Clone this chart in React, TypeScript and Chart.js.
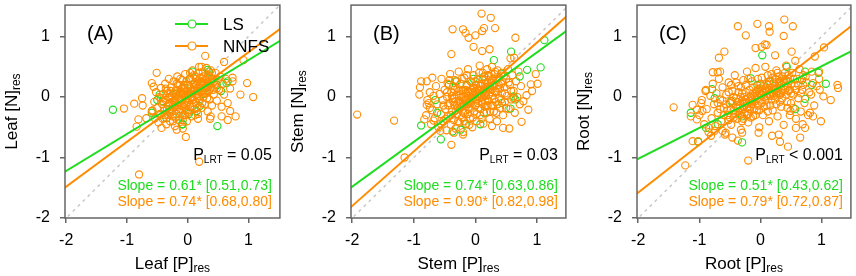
import React, { useEffect, useRef } from "react";
import { Chart, registerables } from "chart.js";

Chart.register(...registerables);

type P = [number, number];

const GREEN = "#1EDC1E";
const ORANGE = "#FF8C00";
const FONT = "'Liberation Sans', Arial, sans-serif";

const xTicks = [-2, -1, 0, 1];
const yTicks = [-2, -1, 0, 1];
const panelLabels = ["(A)", "(B)", "(C)"];
const organs = ["Leaf", "Stem", "Root"];
const lsSlopes = [0.61, 0.74, 0.51];
const nnfsSlopes = [0.74, 0.9, 0.79];
const lsCI = ["[0.51,0.73]", "[0.63,0.86]", "[0.43,0.62]"];
const nnfsCI = ["[0.68,0.80]", "[0.82,0.98]", "[0.72,0.87]"];
const pLrt = ["= 0.05", "= 0.03", "< 0.001"];
const seriesNames = ["LS", "NNFS"];

const leafLS: P[] = [
  [-1.23, -0.21], [0.49, -0.48], [0.08, 0.42], [0.35, 0.42], [0.66, 0.26], [-0.09, -0.45], [-0.46, 0.04],
  [-0.08, -0.45], [0.15, -0.23], [0.33, 0.45], [0.64, 0.23], [-0.59, -0.26], [-0.13, -0.32], [0.2, -0.15],
  [0.48, 0.2], [-0.41, -0.07], [0.04, 0.31], [-0.3, -0.2], [-0.5, -0.05], [0.1, 0.1], [-0.2, 0.05],
  [0.25, 0.05], [0.4, 0.3], [-0.35, -0.35], [0.02, -0.28], [-0.05, 0.15], [0.3, 0.15], [0.55, 0.1],
];

const leafNNFS: P[] = [
  [-0.8, -1.28], [0.19, -1.07], [-0.03, -0.66], [-1.05, -0.19], [-0.88, -0.11], [-0.75, -0.02], [-0.81, -0.37],
  [-0.84, -0.49], [-0.51, 0.4], [-0.59, 0.23], [-0.56, 0.17], [0.29, 0.68], [0.6, 0.58], [0.23, 0.5],
  [0.92, 0.61], [0.98, 0.23], [1.08, 0.0], [0.87, 0.04], [0.74, 0.26], [0.79, -0.32], [0.66, -0.38],
  [0.7, -0.23], [0.56, -0.32], [0.37, -0.36], [0.38, -0.32], [0.17, -0.36], [-0.18, -0.54], [-0.08, -0.52],
  [-0.43, -0.51], [-0.68, -0.35], [-0.59, -0.23], [-0.74, -0.14],
  [-0.58, -0.22], [-0.55, -0.08], [-0.54, -0.35], [-0.52, 0.08], [-0.5, -0.18], [-0.48, -0.42], [-0.47, 0.0],
  [-0.45, -0.28], [-0.44, 0.15], [-0.42, -0.12], [-0.41, -0.36], [-0.4, 0.05], [-0.38, -0.22], [-0.37, 0.22],
  [-0.36, -0.05], [-0.35, -0.45], [-0.34, 0.1], [-0.33, -0.3], [-0.32, -0.14], [-0.31, 0.3], [-0.3, 0.0],
  [-0.29, -0.4], [-0.28, -0.22], [-0.27, 0.16], [-0.26, -0.08], [-0.25, -0.32], [-0.24, 0.06], [-0.23, 0.26],
  [-0.22, -0.16], [-0.21, -0.48], [-0.2, -0.02], [-0.19, 0.12], [-0.18, -0.28], [-0.17, 0.34], [-0.16, -0.1],
  [-0.15, 0.02], [-0.14, -0.38], [-0.13, 0.2], [-0.12, -0.2], [-0.11, 0.08], [-0.1, -0.04], [-0.09, 0.28],
  [-0.08, -0.3], [-0.07, 0.14], [-0.06, -0.12], [-0.05, 0.0], [-0.04, 0.38], [-0.03, -0.22], [-0.02, 0.1],
  [-0.01, -0.4], [0.0, 0.2], [0.01, -0.08], [0.02, 0.04], [0.03, 0.3], [0.04, -0.16], [0.05, 0.14],
  [0.06, -0.32], [0.07, 0.08], [0.08, 0.44], [0.09, -0.04], [0.1, 0.22], [0.11, -0.2], [0.12, 0.12],
  [0.13, 0.34], [0.14, -0.1], [0.15, 0.04], [0.16, 0.26], [0.17, -0.28], [0.18, 0.16], [0.19, 0.5],
  [0.2, -0.06], [0.21, 0.32], [0.22, 0.08], [0.23, -0.18], [0.24, 0.22], [0.25, 0.42], [0.26, 0.0],
  [0.27, 0.14], [0.28, -0.12], [0.29, 0.3], [0.3, 0.06], [0.31, 0.48], [0.32, 0.2], [0.33, -0.24],
  [0.34, 0.36], [0.35, 0.1], [0.36, -0.04], [0.37, 0.26], [0.38, 0.44], [0.39, 0.16], [0.4, -0.14],
  [0.42, 0.3], [0.43, 0.04], [0.45, 0.2], [0.46, 0.4], [0.48, -0.06], [0.5, 0.28], [0.52, 0.12],
  [0.54, 0.34], [0.56, -0.16], [0.58, 0.22], [0.6, 0.04], [0.63, 0.3], [0.66, -0.1], [0.7, 0.14], [0.74, 0.32],
  [-0.12, -0.06], [-0.08, 0.04], [-0.04, -0.08], [0.0, 0.02], [0.04, 0.06], [0.08, 0.0], [0.12, 0.04],
  [-0.16, -0.14], [0.16, 0.1], [-0.2, -0.1], [0.2, 0.14], [-0.24, -0.14], [0.24, 0.1], [-0.06, 0.06],
  [0.06, -0.02], [-0.1, 0.14], [0.1, -0.1], [-0.02, -0.14], [0.02, 0.18], [-0.14, 0.06], [0.14, 0.2],
  [-0.28, -0.02], [0.28, 0.22], [-0.18, -0.2], [0.18, 0.02],
  [-0.38, -0.3], [-0.34, -0.2], [-0.3, -0.1], [-0.26, -0.24], [-0.22, -0.06], [-0.18, 0.06], [-0.14, -0.24],
  [-0.1, -0.14], [-0.06, 0.2], [-0.02, 0.26], [0.02, -0.22], [0.06, 0.28], [0.1, 0.36], [0.14, 0.3],
  [0.18, 0.4], [0.22, 0.26], [0.26, 0.34], [0.3, 0.28], [0.34, 0.18], [0.38, 0.24], [0.42, 0.12],
  [-0.32, 0.06], [-0.28, 0.1], [-0.24, -0.4], [-0.2, -0.34], [-0.16, 0.2], [-0.12, 0.3], [-0.08, -0.38],
  [-0.04, -0.3], [0.0, -0.26], [0.04, 0.4], [0.08, -0.16], [0.12, -0.3], [0.16, -0.18], [0.2, 0.24],
  [0.24, -0.1], [0.28, 0.06], [0.32, -0.02], [0.36, 0.32], [0.4, 0.4], [-0.44, -0.02], [-0.46, -0.3],
  [0.44, 0.26], [0.48, 0.14], [-0.36, 0.14], [-0.4, -0.08], [-0.1, 0.06], [-0.06, -0.16], [0.0, -0.02],
  [0.06, 0.1], [0.12, 0.24], [0.16, -0.02], [0.22, 0.18], [-0.14, -0.02], [-0.18, 0.22], [-0.26, 0.02],
  [0.26, 0.26], [0.32, 0.12], [-0.3, -0.26], [0.1, 0.16],
];

const stemLS: P[] = [
  [1.12, 0.94], [1.06, 0.49], [0.84, 0.45], [0.72, 0.34], [0.58, 0.75], [0.3, 0.61], [0.62, 0.01],
  [0.65, -0.04], [0.57, -0.19], [-0.88, -0.47], [-0.56, -0.7], [-0.37, -0.57], [-0.65, -0.05], [-0.62, -0.26],
  [-0.24, -0.54], [-0.16, -0.45], [0.08, -0.45], [0.14, -0.26], [0.43, -0.1], [-0.43, 0.2], [-0.32, 0.26],
  [-0.14, 0.2], [-0.03, 0.3], [0.14, 0.34], [0.42, 0.39],
];

const stemNNFS: P[] = [
  [-1.92, -0.29], [-1.32, -0.39], [-1.15, -1.0], [-0.39, -0.79], [-0.37, 1.12], [-0.2, 1.12], [-0.16, 1.06],
  [-0.11, 0.98], [0.0, 1.02], [0.11, 1.09], [0.14, 1.14], [0.1, 1.38], [0.25, 1.31], [0.32, 1.14],
  [-0.03, 0.83], [-0.39, 0.71], [0.11, 0.76], [0.23, 0.79], [0.65, 0.98], [0.57, 0.64], [0.63, 0.65],
  [-0.91, 0.04], [-0.9, 0.16], [-0.88, 0.26], [-0.79, 0.26], [-0.7, 0.32], [-0.78, -0.05], [-0.79, -0.13],
  [-0.74, -0.18], [-0.68, -0.39], [-0.83, -0.37], [0.98, 0.38], [1.01, 0.22], [0.92, 0.1], [0.86, -0.21],
  [0.83, 0.03], [0.75, -0.41], [0.55, -0.52], [0.78, -0.07], [0.62, -0.02], [0.9, 0.21], [0.45, -0.51],
  [0.27, -0.48], [-0.2, -0.62], [-0.35, -0.59], [-0.57, -0.56],
  [-0.8, -0.3], [-0.76, -0.1], [-0.74, 0.08], [-0.72, -0.45], [-0.7, -0.22], [-0.68, 0.02], [-0.66, -0.35],
  [-0.64, 0.18], [-0.62, -0.12], [-0.6, -0.5], [-0.58, 0.05], [-0.56, -0.28], [-0.55, 0.3], [-0.53, -0.05],
  [-0.52, -0.4], [-0.5, 0.12], [-0.49, -0.2], [-0.47, -0.55], [-0.46, 0.0], [-0.45, 0.22], [-0.44, -0.32],
  [-0.42, -0.1], [-0.41, 0.38], [-0.4, -0.46], [-0.39, 0.08], [-0.38, -0.24], [-0.37, -0.02], [-0.36, 0.18],
  [-0.35, -0.38], [-0.34, -0.14], [-0.33, 0.28], [-0.32, -0.52], [-0.31, 0.04], [-0.3, -0.28], [-0.29, 0.14],
  [-0.28, -0.08], [-0.27, 0.42], [-0.26, -0.42], [-0.25, -0.18], [-0.24, 0.22], [-0.23, 0.0], [-0.22, -0.34],
  [-0.21, 0.1], [-0.2, -0.58], [-0.19, -0.12], [-0.18, 0.32], [-0.17, -0.26], [-0.16, 0.06], [-0.15, -0.44],
  [-0.14, 0.18], [-0.13, -0.04], [-0.12, 0.46], [-0.11, -0.2], [-0.1, 0.02], [-0.09, -0.36], [-0.08, 0.26],
  [-0.07, -0.1], [-0.06, 0.12], [-0.05, -0.5], [-0.04, -0.02], [-0.03, 0.36], [-0.02, -0.24], [-0.01, 0.08],
  [0.0, -0.14], [0.01, 0.2], [0.02, -0.4], [0.03, 0.0], [0.04, 0.3], [0.05, -0.18], [0.06, 0.12],
  [0.07, 0.52], [0.08, -0.3], [0.09, 0.04], [0.1, 0.22], [0.11, -0.08], [0.12, 0.4], [0.13, -0.44],
  [0.14, 0.1], [0.15, -0.16], [0.16, 0.28], [0.17, 0.02], [0.18, -0.26], [0.19, 0.46], [0.2, 0.16],
  [0.21, -0.06], [0.22, 0.34], [0.23, -0.36], [0.24, 0.08], [0.25, 0.24], [0.26, -0.14], [0.27, 0.5],
  [0.28, 0.02], [0.29, 0.18], [0.3, -0.24], [0.31, 0.38], [0.32, 0.1], [0.33, -0.08], [0.34, 0.28],
  [0.35, -0.4], [0.36, 0.44], [0.37, 0.14], [0.38, -0.02], [0.39, 0.32], [0.4, -0.18], [0.42, 0.22],
  [0.43, 0.06], [0.44, 0.4], [0.45, -0.3], [0.47, 0.16], [0.48, -0.08], [0.5, 0.3], [0.51, 0.02],
  [0.53, 0.46], [0.54, -0.2], [0.56, 0.2], [0.58, -0.04], [0.6, 0.36], [0.62, 0.1], [0.64, -0.26],
  [0.66, 0.26], [0.68, 0.0], [0.7, 0.42], [0.72, -0.12], [0.74, 0.18],
  [-0.1, -0.06], [-0.06, 0.0], [-0.02, 0.04], [0.02, -0.04], [0.06, 0.06], [0.1, 0.0], [-0.14, -0.1],
  [0.14, 0.14], [-0.18, 0.0], [0.18, 0.08], [-0.22, -0.16], [0.22, 0.14], [-0.04, 0.16], [0.04, -0.1],
  [-0.08, -0.18], [0.08, 0.18], [-0.12, 0.1], [0.12, -0.12], [-0.26, -0.06], [0.26, 0.12], [-0.3, -0.14],
  [0.3, 0.2], [0.0, 0.1], [-0.16, -0.22], [0.16, 0.22], [-0.2, 0.12], [0.2, -0.14], [0.34, 0.08], [-0.34, -0.02],
  [-0.48, -0.36], [-0.44, -0.14], [-0.4, -0.3], [-0.36, -0.08], [-0.32, -0.22], [-0.28, -0.4], [-0.24, -0.1],
  [-0.2, -0.26], [-0.16, -0.04], [-0.12, -0.28], [-0.08, 0.08], [-0.04, -0.34], [0.0, 0.26], [0.04, 0.14],
  [0.08, -0.2], [0.12, 0.3], [0.16, -0.06], [0.2, 0.36], [0.24, -0.24], [0.28, 0.3], [0.32, 0.42],
  [0.36, -0.12], [0.4, 0.14], [0.44, 0.26], [0.48, 0.06], [-0.46, 0.08], [-0.42, 0.28], [-0.38, 0.02],
  [-0.34, 0.12], [-0.3, 0.26], [-0.26, 0.1], [-0.22, 0.3], [-0.18, -0.4], [-0.14, 0.36], [-0.1, -0.46],
  [-0.06, 0.24], [-0.02, 0.14], [0.02, -0.28], [0.06, 0.4], [0.1, -0.36], [0.14, 0.02], [0.18, -0.14],
  [0.22, 0.04], [0.26, 0.38], [0.3, -0.04], [0.34, -0.26], [0.38, 0.2], [0.42, -0.04], [0.46, 0.34],
  [0.5, -0.18], [0.08, 0.1], [-0.08, -0.08], [0.0, -0.04], [0.04, 0.02], [-0.04, 0.06], [0.12, 0.08],
  [-0.12, -0.12], [0.16, 0.06], [-0.16, 0.12], [0.2, 0.24], [-0.2, -0.06], [-0.24, 0.04], [0.24, 0.18],
  [-0.28, -0.18], [0.28, -0.14], [0.54, 0.24], [0.58, 0.1], [-0.52, -0.14], [-0.56, -0.44],
];

const rootLS: P[] = [
  [-1.14, -0.26], [-1.02, -0.74], [-0.79, 0.13], [-0.75, -0.02], [-0.89, -0.51], [-0.7, -0.45], [-0.48, -0.07],
  [-0.3, -0.75], [-0.3, -0.32], [0.03, 0.69], [-0.16, 0.31], [-0.05, 0.2], [0.14, 0.26], [0.27, 0.09],
  [0.43, 0.5], [0.57, -0.2], [0.73, -0.03], [0.84, 0.2], [0.95, 0.4], [1.07, 0.22], [0.73, 0.42],
  [0.68, 0.28], [0.38, 0.26],
];

const rootNNFS: P[] = [
  [-1.42, -0.17], [-1.23, -1.13], [-0.2, -1.05], [-1.02, -0.73], [-1.11, -0.73], [-0.37, 1.17], [-0.24, 1.02],
  [-0.05, 1.21], [0.14, 1.17], [0.15, 1.08], [0.39, 1.28], [0.53, 1.17], [0.38, 1.01], [-0.08, 0.81],
  [0.02, 0.83], [0.07, 0.87], [0.1, 0.86], [-0.59, 0.75], [-0.68, 0.65], [-0.7, 0.41], [-0.78, 0.41],
  [-0.66, 0.42], [0.51, 0.75], [0.24, 0.69], [0.57, 0.6], [0.74, 0.34], [0.89, 0.67], [1.04, 0.82],
  [0.96, 0.42], [1.26, 0.2], [1.27, 0.15], [1.15, -0.05], [1.03, 0.01], [0.97, 0.12], [0.86, 0.23],
  [0.83, 0.04], [0.99, -0.4], [0.86, -0.32], [0.81, -0.26], [0.69, -0.45], [0.73, -0.51], [0.65, -0.67],
  [0.45, -0.82], [0.32, -0.74], [0.3, -0.62], [0.19, -0.64], [0.58, -0.51], [0.49, -0.23], [0.44, -0.18],
  [-0.89, 0.12], [-0.97, -0.1], [-1.04, -0.21], [-1.11, -0.13], [-1.14, -0.32], [-1.04, -0.37], [-0.95, -0.23],
  [-0.84, -0.51], [-0.75, -0.56], [-0.81, -0.64], [-0.62, -0.56], [-0.46, -0.67], [-0.57, -0.59], [-0.37, -0.72],
  [-0.3, -0.59], [-0.03, -0.59],
  [-1.0, -0.3], [-0.96, -0.05], [-0.92, -0.45], [-0.9, 0.1], [-0.88, -0.2], [-0.85, -0.58], [-0.82, 0.02],
  [-0.8, -0.35], [-0.78, 0.22], [-0.76, -0.12], [-0.74, -0.48], [-0.72, 0.06], [-0.7, -0.26], [-0.68, 0.3],
  [-0.66, -0.04], [-0.64, -0.4], [-0.62, 0.16], [-0.6, -0.18], [-0.58, -0.62], [-0.56, 0.04], [-0.54, -0.3],
  [-0.52, 0.24], [-0.5, -0.1], [-0.48, -0.46], [-0.46, 0.1], [-0.44, -0.22], [-0.42, 0.36], [-0.4, -0.02],
  [-0.38, -0.36], [-0.36, 0.18], [-0.34, -0.14], [-0.32, -0.54], [-0.3, 0.06], [-0.28, 0.28], [-0.26, -0.26],
  [-0.24, -0.04], [-0.22, 0.42], [-0.2, -0.42], [-0.18, 0.12], [-0.16, -0.16], [-0.14, 0.26], [-0.12, -0.32],
  [-0.1, 0.02], [-0.08, 0.48], [-0.06, -0.22], [-0.04, 0.14], [-0.02, -0.5], [0.0, -0.06], [0.02, 0.32],
  [0.04, -0.3], [0.06, 0.08], [0.08, 0.5], [0.1, -0.14], [0.12, 0.2], [0.14, -0.4], [0.16, 0.02],
  [0.18, 0.38], [0.2, -0.22], [0.22, 0.14], [0.24, -0.04], [0.26, 0.44], [0.28, -0.32], [0.3, 0.24],
  [0.32, 0.04], [0.34, -0.16], [0.36, 0.34], [0.38, -0.46], [0.4, 0.12], [0.42, 0.52], [0.44, -0.08],
  [0.46, 0.26], [0.48, -0.3], [0.5, 0.06], [0.52, 0.4], [0.54, -0.18], [0.56, 0.18], [0.58, -0.36],
  [0.6, 0.3], [0.62, -0.02], [0.64, 0.46], [0.66, -0.24], [0.68, 0.12], [0.7, 0.36], [0.72, -0.1],
  [0.75, 0.24], [0.78, -0.3], [0.8, 0.08], [0.84, 0.42], [0.88, -0.14], [0.92, 0.18], [0.96, 0.3],
  [-0.3, -0.2], [-0.26, -0.1], [-0.22, -0.18], [-0.18, -0.06], [-0.14, -0.12], [-0.1, -0.2], [-0.06, -0.04],
  [-0.02, 0.06], [0.02, -0.1], [0.06, 0.0], [0.1, 0.1], [0.14, 0.04], [0.18, 0.16], [0.22, 0.02],
  [0.26, 0.14], [0.3, 0.06], [0.34, 0.2], [-0.36, -0.24], [-0.4, -0.16], [-0.44, -0.34], [0.38, 0.18],
  [0.42, 0.28], [-0.12, 0.06], [0.0, 0.14], [-0.04, -0.14], [0.04, 0.18], [0.08, -0.06], [0.12, -0.24],
  [-0.08, -0.3], [0.16, 0.26], [-0.16, 0.02], [-0.2, -0.28], [0.2, 0.06], [-0.24, 0.08], [0.24, 0.3],
  [-0.28, -0.36], [0.28, 0.1], [-0.32, 0.0], [0.32, -0.08], [-0.48, -0.2], [0.46, 0.1], [-0.52, -0.38],
  [0.5, 0.22], [-0.56, -0.12], [0.54, 0.04], [-0.6, -0.3], [0.58, 0.12],
  [-0.54, -0.22], [-0.5, -0.34], [-0.46, -0.06], [-0.42, -0.28], [-0.38, -0.08], [-0.34, -0.3], [-0.3, -0.4],
  [-0.26, 0.0], [-0.22, -0.3], [-0.18, -0.2], [-0.14, -0.02], [-0.1, -0.08], [-0.06, 0.1], [-0.02, -0.22],
  [0.02, 0.04], [0.06, -0.16], [0.1, 0.22], [0.14, 0.12], [0.18, -0.04], [0.22, 0.24], [0.26, -0.12],
  [0.3, 0.34], [0.34, 0.06], [0.38, 0.3], [0.42, 0.04], [0.46, 0.36], [0.5, -0.1], [0.54, 0.3],
  [-0.52, 0.08], [-0.48, 0.2], [-0.44, 0.0], [-0.4, 0.24], [-0.36, 0.08], [-0.32, 0.16], [-0.28, -0.08],
  [-0.24, 0.2], [-0.2, 0.3], [-0.16, -0.34], [-0.12, 0.16], [-0.08, 0.06], [-0.04, 0.3], [0.0, 0.22],
  [0.04, 0.08], [0.08, 0.14], [0.12, 0.36], [0.16, -0.14], [0.2, 0.32], [0.24, 0.12], [0.28, 0.4],
  [0.32, 0.26], [0.36, -0.02], [0.4, 0.4], [0.44, 0.18], [0.48, 0.12], [-0.06, 0.02], [0.02, 0.1],
  [0.1, 0.02], [-0.14, -0.06], [0.18, 0.08], [-0.22, -0.1], [0.26, 0.06], [-0.3, -0.06], [0.34, 0.12],
  [-0.38, -0.18], [0.62, 0.2], [0.66, 0.06], [-0.62, -0.06], [-0.66, -0.2], [0.7, 0.2], [-0.7, -0.1],
];

const lsData = [leafLS, stemLS, rootLS];
const nnfsData = [leafNNFS, stemNNFS, rootNNFS];
const xMins = [-2.02, -2.02, -2.02];
const xMaxs = [1.52, 1.47, 1.48];
const yMin = -2.0;
const yMax = 1.52;

const canvasLefts = [0, 286, 572];
const canvasWidths = [285, 285, 284];
const padRights = [5, 5, 3];
const H = 276;

function drawSub(
  ctx: CanvasRenderingContext2D,
  main: string,
  sub: string,
  x: number,
  y: number,
  align: "left" | "center" | "right",
  mainSize: number,
  subSize: number,
  subDy: number,
  color: string,
  after?: string
) {
  ctx.save();
  ctx.fillStyle = color;
  ctx.textAlign = "left";
  ctx.textBaseline = "alphabetic";
  ctx.font = `${mainSize}px ${FONT}`;
  const w1 = ctx.measureText(main).width;
  const wa = after ? ctx.measureText(after).width : 0;
  ctx.font = `${subSize}px ${FONT}`;
  const w2 = ctx.measureText(sub).width;
  const total = w1 + w2 + wa;
  let sx = x;
  if (align === "center") sx = x - total / 2;
  if (align === "right") sx = x - total;
  ctx.font = `${mainSize}px ${FONT}`;
  ctx.fillText(main, sx, y);
  ctx.font = `${subSize}px ${FONT}`;
  ctx.fillText(sub, sx + w1, y + subDy);
  if (after) {
    ctx.font = `${mainSize}px ${FONT}`;
    ctx.fillText(after, sx + w1 + w2, y);
  }
  ctx.restore();
}

function makeChart(canvas: HTMLCanvasElement, i: number) {
  const lineX = [-2.3, 1.8];
  const annot = {
    id: "annot" + i,
    afterDraw(chart: any) {
      const ctx: CanvasRenderingContext2D = chart.ctx;
      const a = chart.chartArea;
      ctx.save();
      ctx.strokeStyle = "#666";
      ctx.lineWidth = 1.5;
      ctx.strokeRect(a.left, a.top, a.right - a.left, a.bottom - a.top);
      ctx.restore();
      ctx.save();
      ctx.fillStyle = "#000";
      ctx.font = `20px ${FONT}`;
      ctx.textBaseline = "alphabetic";
      ctx.textAlign = "left";
      ctx.fillText(panelLabels[i], a.left + 22, 40);
      ctx.restore();
      drawSub(ctx, organs[i] + " [P]", "res", (a.left + a.right) / 2, 269, "center", 17, 12, 3, "#000");
      ctx.save();
      ctx.translate(a.left - 48, (a.top + a.bottom) / 2);
      ctx.rotate(-Math.PI / 2);
      drawSub(ctx, organs[i] + " [N]", "res", 0, 0, "center", 17, 12, 3, "#000");
      ctx.restore();
      const rx = a.right - 8;
      drawSub(ctx, "P", "LRT", rx, 160, "right", 16, 10, 3, "#000", " " + pLrt[i]);
      ctx.save();
      ctx.font = `14px ${FONT}`;
      ctx.textAlign = "right";
      ctx.textBaseline = "alphabetic";
      ctx.fillStyle = GREEN;
      ctx.fillText(`Slope = ${lsSlopes[i].toFixed(2)}* ${lsCI[i]}`, rx, 190);
      ctx.fillStyle = ORANGE;
      ctx.fillText(`Slope = ${nnfsSlopes[i].toFixed(2)}* ${nnfsCI[i]}`, rx, 206);
      ctx.restore();
      if (i === 0) {
        const cols = [GREEN, ORANGE];
        const ys = [24, 46];
        for (let k = 0; k < 2; k++) {
          ctx.save();
          ctx.strokeStyle = cols[k];
          ctx.lineWidth = 2;
          ctx.beginPath();
          ctx.moveTo(a.left + 110, ys[k]);
          ctx.lineTo(a.left + 143, ys[k]);
          ctx.stroke();
          ctx.lineWidth = 1.2;
          ctx.fillStyle = "#fff";
          ctx.beginPath();
          ctx.arc(a.left + 127, ys[k], 4, 0, Math.PI * 2);
          ctx.fill();
          ctx.stroke();
          ctx.fillStyle = "#000";
          ctx.font = `17px ${FONT}`;
          ctx.textBaseline = "middle";
          ctx.textAlign = "left";
          ctx.fillText(seriesNames[k], a.left + 158, ys[k] + 1);
          ctx.restore();
        }
      }
    },
  };

  const pts = (arr: P[]) => arr.map(([x, y]) => ({ x, y }));
  const line = (b: number) => lineX.map((x) => ({ x, y: b * x }));

  return new Chart(canvas, {
    type: "scatter",
    data: {
      datasets: [
        { type: "line", data: line(lsSlopes[i]), borderColor: GREEN, borderWidth: 2, pointRadius: 0, clip: 0, order: 0 } as any,
        { type: "line", data: line(nnfsSlopes[i]), borderColor: ORANGE, borderWidth: 2, pointRadius: 0, clip: 0, order: 1 } as any,
        {
          data: pts(nnfsData[i]),
          borderColor: ORANGE,
          backgroundColor: "rgba(0,0,0,0)",
          borderWidth: 1.1,
          pointRadius: 3.6,
          order: 2,
        },
        {
          data: pts(lsData[i]),
          borderColor: GREEN,
          backgroundColor: "rgba(0,0,0,0)",
          borderWidth: 1.1,
          pointRadius: 3.6,
          order: 3,
        },
        {
          type: "line",
          data: lineX.map((x) => ({ x, y: x })),
          borderColor: "#C8C8C8",
          borderWidth: 1.5,
          borderDash: [3, 4],
          pointRadius: 0,
          clip: 0,
          order: 4,
        } as any,
      ],
    },
    options: {
      responsive: false,
      animation: false,
      events: [],
      layout: { padding: { top: 3, right: padRights[i], left: 0, bottom: 0 } },
      plugins: { legend: { display: false }, tooltip: { enabled: false } },
      scales: {
        x: {
          type: "linear",
          min: xMins[i],
          max: xMaxs[i],
          afterBuildTicks: (s: any) => {
            s.ticks = xTicks.map((v) => ({ value: v }));
          },
          afterFit: (s: any) => {
            s.height = 58;
            s.paddingLeft = 0;
            s.paddingRight = 0;
          },
          ticks: { color: "#000", font: { size: 16, family: FONT }, padding: 8, callback: (v: any) => String(v) },
          grid: { drawOnChartArea: false, drawTicks: true, tickLength: 5, color: "#666", lineWidth: 1.5 },
          border: { display: false },
        },
        y: {
          type: "linear",
          min: yMin,
          max: yMax,
          afterBuildTicks: (s: any) => {
            s.ticks = yTicks.map((v) => ({ value: v }));
          },
          afterFit: (s: any) => {
            s.width = 65;
            s.paddingTop = 0;
            s.paddingBottom = 0;
          },
          ticks: { color: "#000", font: { size: 16, family: FONT }, padding: 10, callback: (v: any) => String(v) },
          grid: { drawOnChartArea: false, drawTicks: true, tickLength: 5, color: "#666", lineWidth: 1.5 },
          border: { display: false },
        },
      },
    },
    plugins: [annot],
  } as any);
}

export default function App() {
  const refs = [useRef<HTMLCanvasElement>(null), useRef<HTMLCanvasElement>(null), useRef<HTMLCanvasElement>(null)];
  useEffect(() => {
    document.body.style.margin = "0";
    const charts = refs.map((r, i) => makeChart(r.current as HTMLCanvasElement, i));
    return () => charts.forEach((c) => c.destroy());
  }, []);
  return (
    <div style={{ position: "absolute", left: 0, top: 0, width: 856, height: H, background: "#fff" }}>
      {refs.map((r, i) => (
        <canvas
          key={i}
          ref={r}
          width={canvasWidths[i]}
          height={H}
          style={{ position: "absolute", left: canvasLefts[i], top: 0, width: canvasWidths[i], height: H }}
        />
      ))}
    </div>
  );
}
